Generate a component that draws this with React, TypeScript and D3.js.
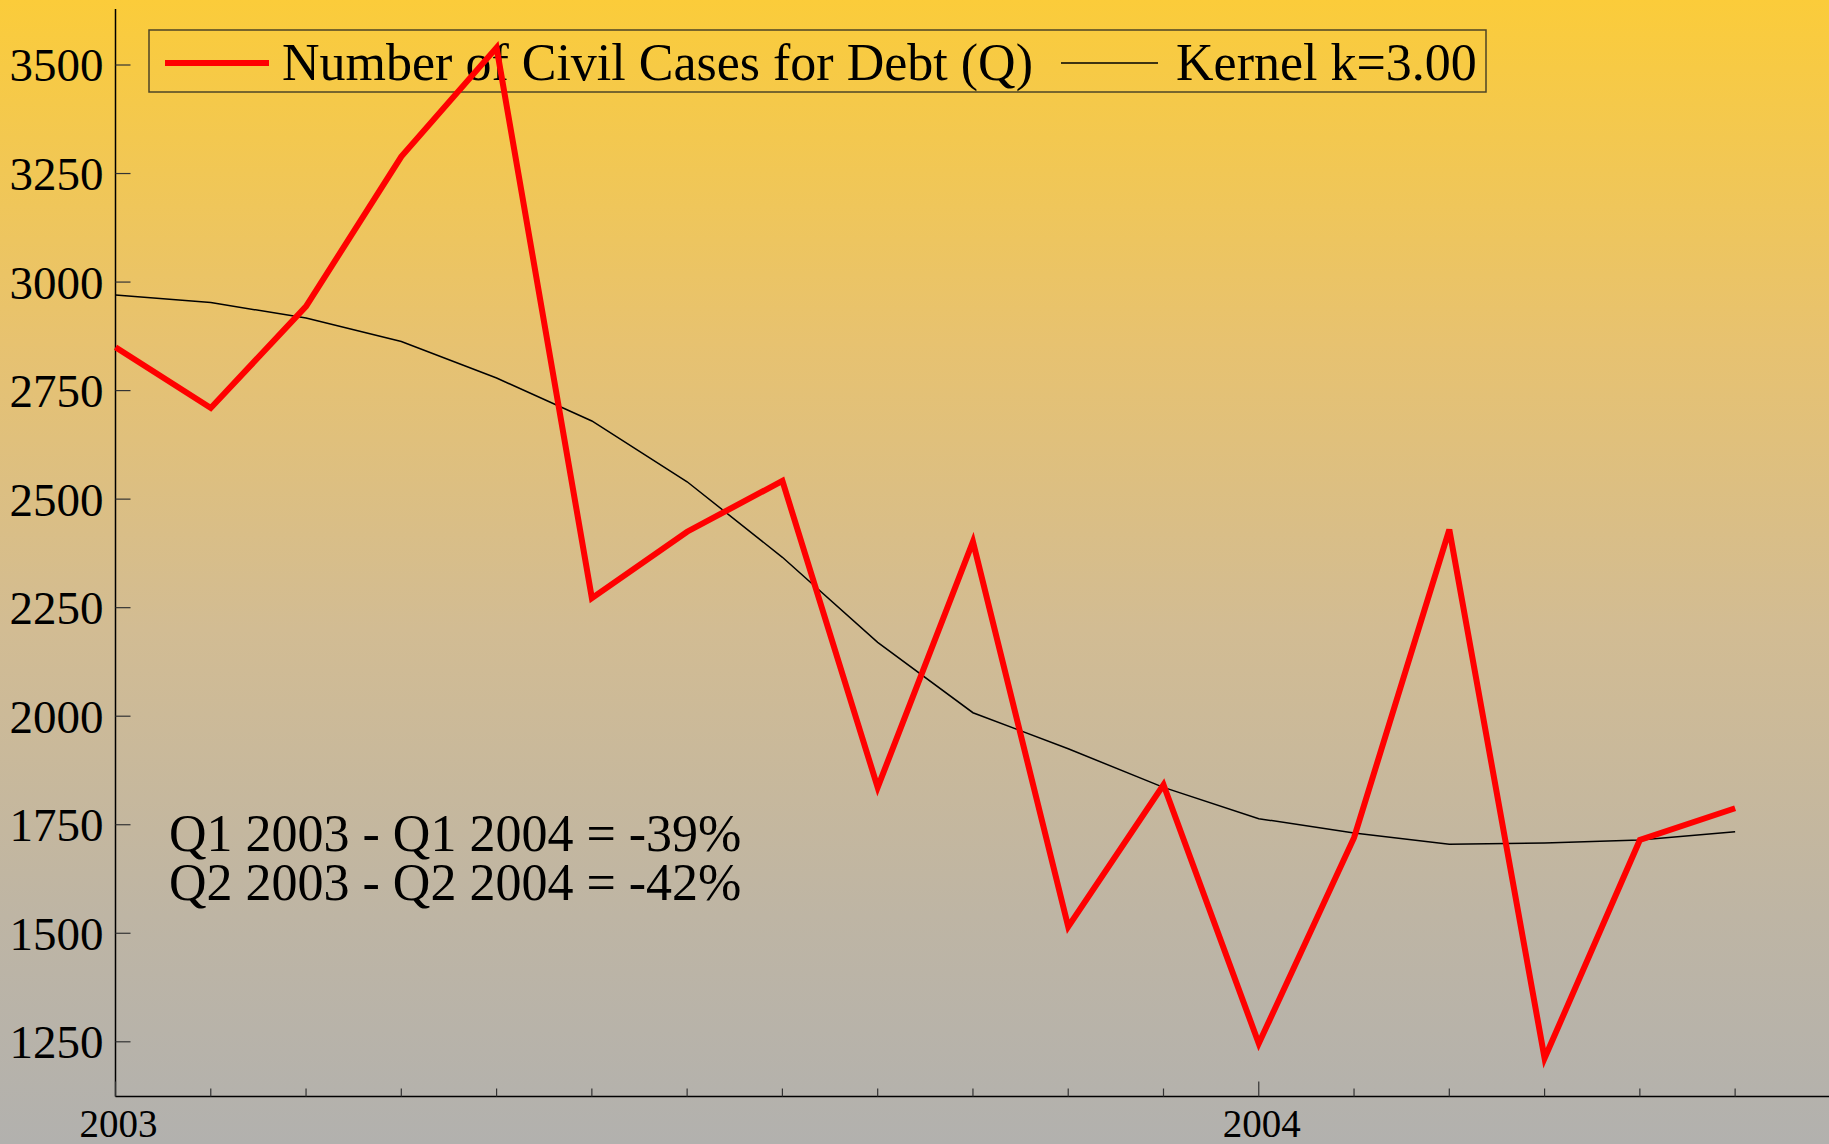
import { useEffect, useRef } from "react";
import * as d3 from "d3";

// monthly data, Jan 2003 .. Jun 2004
const months = d3.range(18);
const cases = [2850, 2710, 2944, 3289, 3540, 2272, 2425, 2542, 1836, 2402, 1515, 1842, 1246, 1720, 2430, 1212, 1715, 1788];
const kernel = [2970, 2953, 2917, 2863, 2779, 2680, 2540, 2366, 2170, 2008, 1925, 1836, 1764, 1731, 1705, 1708, 1715, 1734];
const yTicks = [1250, 1500, 1750, 2000, 2250, 2500, 2750, 3000, 3250, 3500];
const yearTicks = [
  { month: 0, label: "2003" },
  { month: 12, label: "2004" },
];
const legendLabels = ["Number of Civil Cases for Debt (Q)", "Kernel k=3.00"];
const notes = ["Q1 2003 - Q1 2004 = -39%", "Q2 2003 - Q2 2004 = -42%"];

const W = 1829;
const H = 1144;
const FONT = "'Liberation Serif', 'Times New Roman', serif";

const App = () => {
  const svgRef = useRef<SVGSVGElement>(null);

  useEffect(() => {
    document.body.style.margin = "0";
    const svg = d3.select(svgRef.current);
    svg.selectAll("*").remove();
    svg.attr("width", W).attr("height", H);

    // background gradient
    const grad = svg
      .append("defs")
      .append("linearGradient")
      .attr("id", "bg")
      .attr("x1", 0)
      .attr("y1", 0)
      .attr("x2", 0)
      .attr("y2", 1);
    [
      [0, "#fbcc3a"],
      [0.3, "#e7c270"],
      [0.55, "#d2bc93"],
      [0.8, "#beb5a4"],
      [1, "#b2b1ae"],
    ].forEach(([o, c]) => grad.append("stop").attr("offset", o).attr("stop-color", c));
    svg.append("rect").attr("width", W).attr("height", H).attr("fill", "url(#bg)");

    const x = d3.scaleLinear().domain([0, 18]).range([115.5, 1830.4]);
    const y = d3.scaleLinear().domain([1124, 3629]).range([1096.5, 9]);
    const x0 = x(0);
    const yBottom = y(1124);

    // y axis
    svg
      .append("line")
      .attr("x1", x0)
      .attr("x2", x0)
      .attr("y1", y(3629))
      .attr("y2", yBottom)
      .attr("stroke", "black")
      .attr("stroke-width", 1.5);
    const yt = svg.append("g").selectAll("g").data(yTicks).enter().append("g");
    yt.append("line")
      .attr("x1", x0)
      .attr("x2", x0 + 15)
      .attr("y1", (d) => y(d))
      .attr("y2", (d) => y(d))
      .attr("stroke", "#333")
      .attr("stroke-width", 1.2);
    yt.append("text")
      .attr("x", x0 - 12)
      .attr("y", (d) => y(d))
      .attr("dy", "0.35em")
      .attr("text-anchor", "end")
      .attr("font-family", FONT)
      .attr("font-size", 47)
      .text((d) => d);

    // x axis
    svg
      .append("line")
      .attr("x1", x0)
      .attr("x2", W)
      .attr("y1", yBottom)
      .attr("y2", yBottom)
      .attr("stroke", "black")
      .attr("stroke-width", 1.5);
    svg
      .append("g")
      .selectAll("line")
      .data(months)
      .enter()
      .append("line")
      .attr("x1", (d) => x(d))
      .attr("x2", (d) => x(d))
      .attr("y1", yBottom)
      .attr("y2", (d) => yBottom - (d % 12 === 0 ? 15 : 8))
      .attr("stroke", "#333")
      .attr("stroke-width", 1.2);
    svg
      .append("g")
      .selectAll("text")
      .data(yearTicks)
      .enter()
      .append("text")
      .attr("x", (d) => x(d.month) + 3)
      .attr("y", 1137)
      .attr("text-anchor", "middle")
      .attr("font-family", FONT)
      .attr("font-size", 39)
      .text((d) => d.label);

    // legend
    svg
      .append("rect")
      .attr("x", 149)
      .attr("y", 30)
      .attr("width", 1337)
      .attr("height", 62)
      .attr("fill", "none")
      .attr("stroke", "#4d4426")
      .attr("stroke-width", 1.5);
    svg.append("line").attr("x1", 165).attr("x2", 269).attr("y1", 63).attr("y2", 63).attr("stroke", "red").attr("stroke-width", 6);
    svg.append("line").attr("x1", 1061).attr("x2", 1158).attr("y1", 63).attr("y2", 63).attr("stroke", "black").attr("stroke-width", 1.5);
    svg
      .append("g")
      .selectAll("text")
      .data(legendLabels)
      .enter()
      .append("text")
      .attr("x", (d, i) => (i === 0 ? 282 : 1176))
      .attr("y", 80)
      .attr("font-family", FONT)
      .attr("font-size", 52)
      .text((d) => d);

    // annotation
    svg
      .append("g")
      .selectAll("text")
      .data(notes)
      .enter()
      .append("text")
      .attr("x", 169)
      .attr("y", (d, i) => 851 + i * 49)
      .attr("font-family", FONT)
      .attr("font-size", 52)
      .text((d) => d);

    // series
    const line = d3
      .line<number>()
      .x((d, i) => x(months[i]))
      .y((d) => y(d));
    svg
      .append("path")
      .attr("d", line(kernel))
      .attr("fill", "none")
      .attr("stroke", "black")
      .attr("stroke-width", 1.5);
    svg
      .append("path")
      .attr("d", line(cases))
      .attr("fill", "none")
      .attr("stroke", "red")
      .attr("stroke-width", 6)
      .attr("stroke-linejoin", "miter");
  }, []);

  return <svg ref={svgRef} style={{ position: "absolute", left: 0, top: 0 }}></svg>;
};

export default App;
